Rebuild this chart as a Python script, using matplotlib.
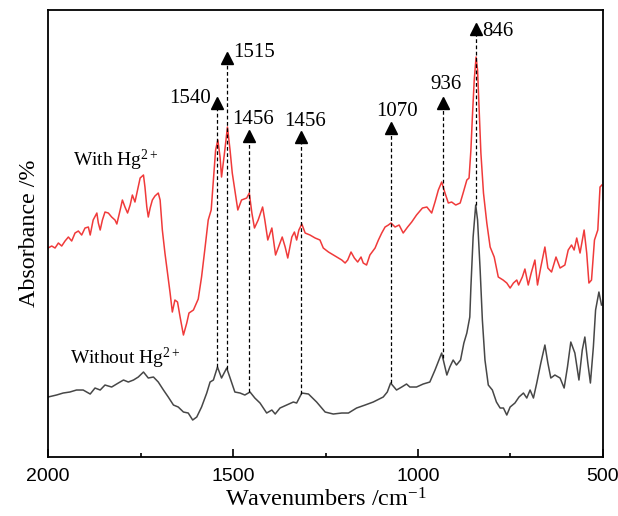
import numpy as np
import matplotlib
matplotlib.use("Agg")
import matplotlib.pyplot as plt

plt.rcParams['font.family'] = ['Liberation Serif', 'DejaVu Serif']
plt.rcParams['mathtext.fontset'] = 'custom'
plt.rcParams['mathtext.rm'] = 'Liberation Serif'
plt.rcParams['mathtext.it'] = 'Liberation Serif:italic'

# spectra (arbitrary absorbance units)
with_hg_wn = [2000, 1990, 1981, 1972, 1963, 1954, 1945, 1936, 1927, 1918,
              1909, 1900, 1891, 1886, 1878, 1868, 1864, 1859, 1853, 1846,
              1837, 1828, 1819, 1814, 1805, 1799, 1792, 1785, 1778, 1772,
              1765, 1758, 1751, 1742, 1738, 1733, 1729, 1724, 1718, 1711,
              1702, 1697, 1691, 1684, 1677, 1670, 1664, 1657, 1650, 1643,
              1634, 1625, 1619, 1607, 1594, 1585, 1576, 1567, 1559, 1553,
              1547, 1541, 1535, 1531, 1523, 1515, 1508, 1502, 1495, 1487,
              1477, 1463, 1456, 1449, 1442, 1432, 1420, 1414, 1406, 1395,
              1385, 1378, 1367, 1359, 1352, 1341, 1334, 1328, 1322, 1314,
              1305, 1292, 1278, 1265, 1256, 1242, 1224, 1206, 1197, 1190,
              1181, 1172, 1163, 1154, 1148, 1139, 1130, 1116, 1107, 1098,
              1089, 1080, 1073, 1062, 1051, 1040, 1028, 1017, 1004, 988,
              976, 963, 954, 945, 936, 927, 918, 909, 898, 886,
              878, 868, 862, 857, 853, 848, 843, 839, 835, 830,
              823, 814, 805, 794, 783, 770, 760, 751, 742, 733,
              728, 718, 711, 702, 694, 684, 677, 668, 657, 649,
              639, 627, 616, 603, 594, 585, 578, 571, 562, 551,
              544, 538, 531, 523, 514, 508, 503]
with_hg_abs = [2.09, 2.11, 2.09, 2.14, 2.11, 2.16, 2.20, 2.16, 2.24, 2.26,
               2.22, 2.29, 2.30, 2.22, 2.37, 2.44, 2.34, 2.27, 2.37, 2.45,
               2.44, 2.40, 2.37, 2.33, 2.47, 2.57, 2.50, 2.44, 2.52, 2.62,
               2.55, 2.67, 2.79, 2.82, 2.70, 2.50, 2.40, 2.49, 2.57, 2.61,
               2.64, 2.57, 2.27, 2.04, 1.84, 1.64, 1.45, 1.57, 1.55, 1.40,
               1.22, 1.34, 1.44, 1.47, 1.58, 1.80, 2.08, 2.37, 2.47, 2.77,
               3.07, 3.17, 3.00, 2.80, 3.04, 3.30, 3.07, 2.84, 2.67, 2.47,
               2.57, 2.59, 2.64, 2.44, 2.29, 2.37, 2.50, 2.37, 2.17, 2.29,
               2.02, 2.09, 2.20, 2.10, 1.99, 2.20, 2.25, 2.17, 2.27, 2.33,
               2.24, 2.22, 2.19, 2.17, 2.09, 2.05, 2.01, 1.97, 1.94, 1.97,
               2.05, 1.99, 1.95, 2.00, 1.94, 1.92, 2.02, 2.09, 2.17, 2.24,
               2.30, 2.32, 2.34, 2.30, 2.32, 2.24, 2.30, 2.35, 2.42, 2.49,
               2.50, 2.44, 2.55, 2.67, 2.75, 2.64, 2.54, 2.55, 2.52, 2.54,
               2.64, 2.77, 2.79, 3.07, 3.40, 3.77, 4.00, 3.87, 3.50, 3.04,
               2.64, 2.34, 2.10, 2.00, 1.80, 1.77, 1.74, 1.69, 1.74, 1.77,
               1.72, 1.80, 1.88, 1.72, 1.84, 1.97, 1.72, 1.90, 2.10, 1.89,
               1.85, 2.00, 1.89, 1.92, 2.07, 2.12, 2.07, 2.19, 2.04, 2.27,
               2.04, 1.74, 1.77, 2.17, 2.27, 2.70, 2.72]

without_hg_wn = [2000, 1977, 1959, 1941, 1923, 1905, 1886, 1873, 1859, 1846,
                 1828, 1810, 1796, 1783, 1769, 1756, 1742, 1729, 1715, 1702,
                 1688, 1675, 1661, 1648, 1634, 1621, 1609, 1598, 1585, 1571,
                 1562, 1553, 1542, 1531, 1517, 1506, 1495, 1481, 1468, 1454,
                 1441, 1427, 1409, 1395, 1386, 1373, 1355, 1337, 1328, 1314,
                 1296, 1274, 1251, 1229, 1206, 1188, 1166, 1143, 1121, 1094,
                 1083, 1074, 1058, 1044, 1031, 1022, 1004, 986, 968, 954,
                 936, 922, 914, 905, 896, 885, 876, 868, 860, 857,
                 851, 844, 839, 832, 826, 819, 810, 799, 788, 778,
                 769, 760, 751, 738, 727, 715, 706, 697, 688, 679,
                 668, 657, 649, 641, 630, 616, 605, 596, 587, 576,
                 565, 556, 549, 541, 534, 526, 520, 511, 504]
without_hg_abs = [0.60, 0.62, 0.64, 0.65, 0.67, 0.67, 0.63, 0.69, 0.67, 0.72,
                  0.70, 0.74, 0.77, 0.75, 0.77, 0.80, 0.85, 0.79, 0.80, 0.75,
                  0.67, 0.60, 0.52, 0.50, 0.45, 0.44, 0.37, 0.40, 0.50, 0.64,
                  0.75, 0.77, 0.90, 0.79, 0.89, 0.77, 0.65, 0.64, 0.62, 0.65,
                  0.59, 0.54, 0.44, 0.47, 0.43, 0.49, 0.52, 0.55, 0.54, 0.64,
                  0.63, 0.55, 0.45, 0.43, 0.44, 0.44, 0.49, 0.52, 0.55, 0.60,
                  0.65, 0.74, 0.67, 0.70, 0.73, 0.70, 0.70, 0.73, 0.75, 0.87,
                  1.04, 0.82, 0.90, 0.97, 0.92, 0.97, 1.14, 1.24, 1.40, 1.70,
                  2.20, 2.52, 2.37, 1.87, 1.37, 0.97, 0.72, 0.67, 0.55, 0.49,
                  0.49, 0.42, 0.50, 0.54, 0.60, 0.64, 0.59, 0.67, 0.59, 0.74,
                  0.94, 1.12, 0.94, 0.79, 0.82, 0.79, 0.69, 0.90, 1.15, 1.04,
                  0.77, 1.07, 1.20, 0.94, 0.74, 1.10, 1.47, 1.65, 1.52]

# marked bands: where the dashed line sits, its label, and the arrow tip height
peak_wn = [1542, 1516, 1456, 1316, 1074, 933, 844]
peak_labels = ['1540', '1515', '1456', '1456', '1070', '936', '846']
peak_top = [3.54, 3.99, 3.21, 3.20, 3.29, 3.54, 4.28]

# label placement (offset in points, alignment)
label_offsets = [(-5, 3.5), (4.5, 4), (3, 12), (2.5, 11), (4.5, 12), (2.5, 13), (5, -1.5)]
label_ha = ['right', 'left', 'center', 'center', 'center', 'center', 'left']

fig = plt.figure(figsize=(6.18, 5.16), dpi=100)
ax = fig.add_axes([0.0777, 0.1143, 0.898, 0.8663])

ax.plot(with_hg_wn, with_hg_abs, color='#f03a3a', lw=1.1)
ax.plot(without_hg_wn, without_hg_abs, color='#474747', lw=1.1)

g_wn = np.array(without_hg_wn)[::-1]
g_abs = np.array(without_hg_abs)[::-1]
for wn, lab, top, off, ha in zip(peak_wn, peak_labels, peak_top, label_offsets, label_ha):
    bottom = np.interp(wn, g_wn, g_abs)
    ax.plot([wn, wn], [bottom, top], color='black', lw=0.9, ls=(0, (3, 2)))
    ax.plot(wn, top, marker='^', color='black', ms=9, mec='black')
    ax.annotate(lab, (wn, top), xytext=off, textcoords='offset points',
                ha=ha, va='center', fontsize=15)

ax.text(1816, 2.97, 'With Hg$^{2+}$', ha='center', va='center', fontsize=14)
ax.text(1792, 0.99, 'Without Hg$^{2+}$', ha='center', va='center', fontsize=14)

ax.set_xlim(2000, 500)
ax.set_ylim(0, 4.47)
ax.set_xticks([2000, 1500, 1000, 500])
ax.set_xticks([1750, 1250, 750], minor=True)
ax.set_yticks([])
ax.tick_params(axis='x', which='major', direction='in', length=6, width=1.2,
               pad=8, labelsize=14)
ax.tick_params(axis='x', which='minor', direction='in', length=3, width=1.2)
for lbl in ax.get_xticklabels():
    lbl.set_fontfamily('Liberation Sans')
for sp in ax.spines.values():
    sp.set_linewidth(1.3)

ax.set_xlabel('Wavenumbers /cm$^{-1}$', fontsize=17.5, labelpad=2)
ax.set_ylabel('Absorbance /%', fontsize=17.3, labelpad=6)

fig.savefig('out.png', dpi=100)
